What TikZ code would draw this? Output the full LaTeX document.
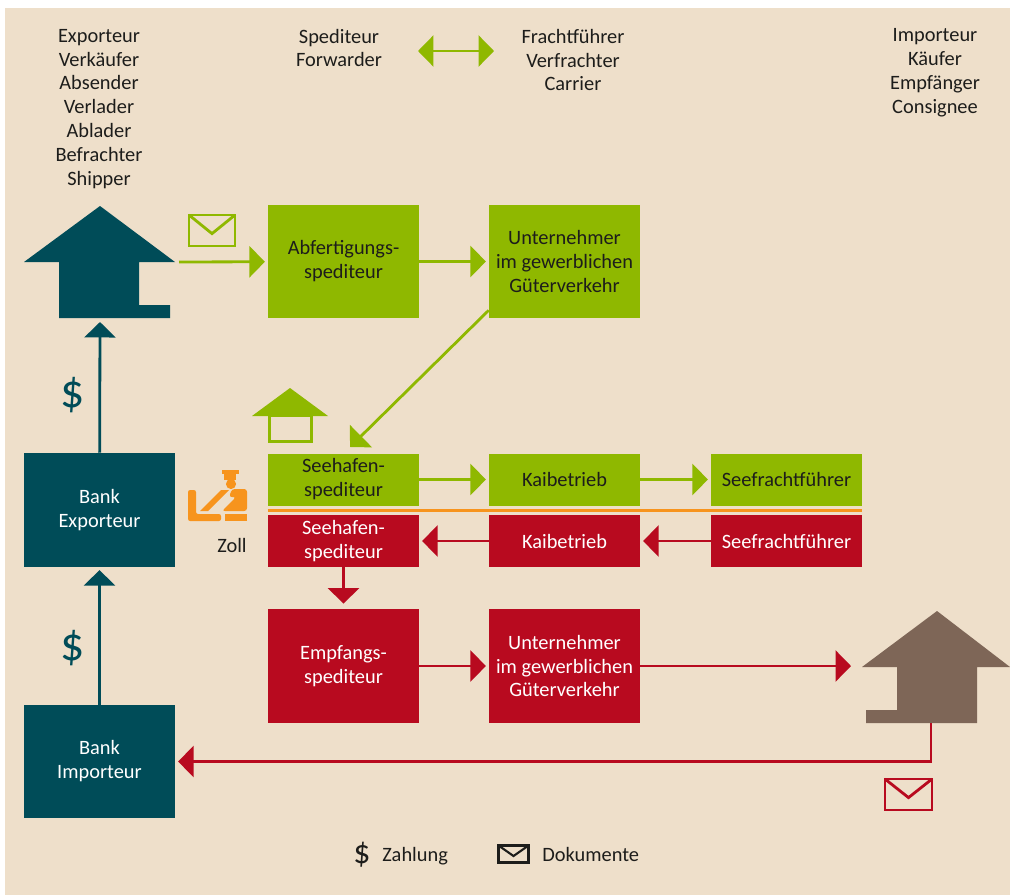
\documentclass[tikz,border=0pt]{standalone}
\usepackage{fontspec}
\setmainfont{Carlito}
\usetikzlibrary{arrows.meta,calc}
\definecolor{beige}{HTML}{EEDFCA}
\definecolor{gruen}{HTML}{8FB800}
\definecolor{rot}{HTML}{B80A1F}
\definecolor{petrol}{HTML}{004C58}
\definecolor{braun}{HTML}{7E6657}
\definecolor{zoll}{HTML}{F7941D}
\definecolor{schrift}{HTML}{1D1D1B}
\tikzset{
  txt/.style={align=center, text=schrift, inner sep=0pt, font=\fontsize{14.5}{17}\selectfont},
  box/.style={txt, minimum width=3.775cm},
  hoch/.style={minimum height=2.825cm},
  flach/.style={minimum height=1.3cm},
  gbox/.style={box, fill=gruen},
  rbox/.style={box, fill=rot, text=white},
  tbox/.style={box, fill=petrol, text=white},
  pfeil/.style={-{Triangle[length=11pt,width=22pt]}, line width=2pt, shorten >=2pt},
  dollar/.style={text=petrol, inner sep=0pt, font=\fontsize{34}{34}\selectfont}
}
\begin{document}
\begin{tikzpicture}[x=0.025cm, y=-0.025cm]
\useasboundingbox (0,0) rectangle (1010,895);
\fill[beige] (5,8) rectangle (1010,895);

% Kopfzeile
\node[txt] (exp) at (99,109) {Exporteur\\Verkäufer\\Absender\\Verlader\\Ablader\\Befrachter\\Shipper};
\node[txt] (sped) at (339,48) {Spediteur\\Forwarder};
\node[txt] (fracht) at (573,60) {Frachtführer\\Verfrachter\\Carrier};
\node[txt] (imp) at (935,73) {Importeur\\Käufer\\Empfänger\\Consignee};
\coordinate (dl) at (418,51);
\coordinate (dr) at (494,51);
\draw[gruen, line width=2pt, {Triangle[length=11pt,width=22pt]}-{Triangle[length=11pt,width=22pt]}] (dl)--(dr);

% Haeuser
\fill[petrol] (24,262)--(100,206)--(175,262)--(139,262)--(139,305)--(170,305)--(170,318)--(59,318)--(59,262)--cycle;
\fill[braun] (862,667)--(937,611)--(1010,667)--(977,667)--(977,723)--(866,723)--(866,710)--(897,710)--(897,667)--cycle;
\fill[gruen] (252,416)--(290,388)--(328,416)--cycle;
\draw[gruen, line width=2pt] (269.5,416)rectangle(311.5,441.5);
\coordinate (expR) at (179,262);
\coordinate (expU) at (100,322);
\coordinate (impL) at (851,666);
\coordinate (impU) at (931,723);

% Kaesten
\node[gbox, hoch] (abf) at (343.5,261.5) {Abfertigungs-\\spediteur};
\node[gbox, hoch] (ugvA) at (564.5,261.5) {Unternehmer\\im gewerblichen\\Güterverkehr};
\node[gbox, flach] (shA) at (343.5,479.5) {Seehafen-\\spediteur};
\node[gbox, flach] (kaiA) at (564.5,479.5) {Kaibetrieb};
\node[gbox, flach] (sfA) at (786.5,479.5) {Seefrachtführer};
\node[rbox, flach] (shB) at (343.5,541) {Seehafen-\\spediteur};
\node[rbox, flach] (kaiB) at (564.5,541) {Kaibetrieb};
\node[rbox, flach] (sfB) at (786.5,541) {Seefrachtführer};
\node[rbox, hoch] (empf) at (343.5,666) {Empfangs-\\spediteur};
\node[rbox, hoch] (ugvB) at (564.5,666) {Unternehmer\\im gewerblichen\\Güterverkehr};
\node[tbox, minimum height=2.85cm] (bankEx) at (99.5,510) {Bank\\Exporteur};
\node[tbox, hoch] (bankIm) at (99.5,761.5) {Bank\\Importeur};
\draw[zoll, line width=2pt] (shA.south west)++(0,4.5)--($(sfA.south east)+(0,4.5)$);

% Pfeile
\draw[pfeil, gruen] (expR)--(abf);
\draw[pfeil, gruen] (abf)--(ugvA);
\coordinate (diag) at (350,447);
\draw[pfeil, gruen, shorten >=0pt] ($(ugvA.south west)+(0,-8)$)--(diag);
\draw[pfeil, gruen] (shA)--(kaiA);
\draw[pfeil, gruen] (kaiA)--(sfA);
\draw[pfeil, rot] (sfB)--(kaiB);
\draw[pfeil, rot] (kaiB)--(shB);
\draw[pfeil, rot, shorten >=4pt] (shB)--(empf);
\draw[pfeil, rot] (empf)--(ugvB);
\draw[pfeil, rot, shorten >=0pt] (ugvB)--(impL);
\draw[pfeil, rot] (impU)|-(bankIm);
\draw[pfeil, petrol, shorten >=0pt] (bankEx)--(expU);
\draw[pfeil, petrol] (bankIm)--(bankEx);
\node[dollar] (d1) at (73,395) {\$};
\node[dollar] (d2) at (73,648) {\$};

% Briefe
\foreach \bx/\by/\bw/\bh/\farbe in {189/215/46/31/gruen, 885/779/47/31/rot}
{
    \draw[\farbe, line width=2pt] (\bx,\by) rectangle ++(\bw,\bh);
    \draw[\farbe, line width=2pt] (\bx,\by)--++(\bw/2,\bh*0.6)--++(\bw/2,-\bh*0.6);
}

% Zoll
\fill[zoll, rounded corners=1.5pt] (188,490)--(196,490)--(196,514)--(221,514)--(221,521)--(188,521)--cycle;
\fill[zoll] (225,514) rectangle (247,521);
\fill[zoll] (200,511)--(221,490)--(229,490)--(208,511)--cycle;
\fill[zoll, rounded corners=2pt] (232,489)--(247,489)--(247,511)--(222,511)--(236,497)--(229,497)--cycle;
\fill[zoll] (231,484) circle (3.6pt);
\fill[zoll] (222,470) rectangle (239,474);
\fill[zoll] (224,474) rectangle (236,480);
\node[txt] (zl) at (232,545) {Zoll};

% Legende
\node[dollar, text=schrift, font=\fontsize{24}{24}\selectfont] (ld) at (362,855) {\$};
\node[txt, anchor=base west] (lz) at (382,861) {Zahlung};
\draw[schrift, line width=1.5pt] (498.5,845.5) rectangle (528.5,862.5);
\draw[schrift, line width=1.5pt] (498.5,845.5)--(513.5,856)--(528.5,845.5);
\node[txt, anchor=base west] (lk) at (542,861) {Dokumente};
\end{tikzpicture}
\end{document}
